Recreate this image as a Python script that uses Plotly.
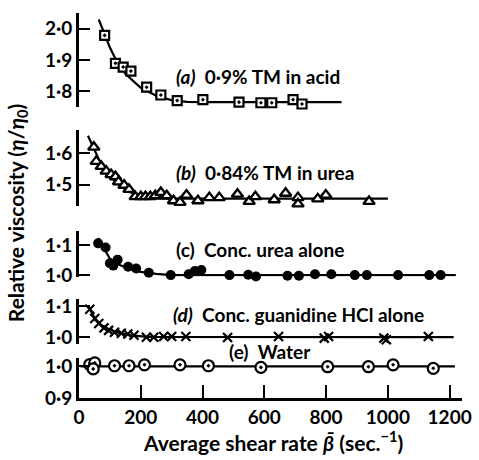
import plotly.graph_objects as go

FONT = "Lato"

# ---------------- data ----------------
# (a) 0.9% TM in acid
a_x = [83, 118, 143, 168, 219, 265, 318, 373, 401, 518, 589, 624, 693, 722]
a_y = [1.979, 1.889, 1.877, 1.864, 1.812, 1.787, 1.769, 1.746, 1.772, 1.764, 1.762, 1.762, 1.772, 1.758]
a_fit_x = [64, 83, 100, 120, 150, 200, 250, 300, 350, 400, 850]
a_fit_y = [2.03, 1.98, 1.94, 1.90, 1.855, 1.81, 1.785, 1.770, 1.765, 1.764, 1.764]

# (b) 0.84% TM in urea
b_x = [48, 56, 72, 88, 104, 118, 128, 146, 162, 182, 200, 215, 231, 247, 265, 284, 306, 327,
       348, 385, 422, 454, 513, 551, 571, 632, 669, 709, 709, 773, 799, 939]
b_y = [1.619, 1.574, 1.558, 1.543, 1.532, 1.525, 1.509, 1.498, 1.485, 1.462, 1.462, 1.462,
       1.462, 1.465, 1.475, 1.465, 1.449, 1.444, 1.467, 1.449, 1.459, 1.459, 1.470, 1.447,
       1.462, 1.452, 1.473, 1.459, 1.439, 1.455, 1.467, 1.447]
b_fit_x = [29, 48, 70, 100, 130, 160, 190, 230, 280, 1000]
b_fit_y = [1.655, 1.615, 1.568, 1.525, 1.500, 1.479, 1.465, 1.457, 1.456, 1.456]

# (c) Conc. urea alone
c_x = [62, 86, 100, 111, 125, 159, 185, 226, 265, 297, 325, 355, 375, 396, 487, 516, 548,
       573, 599, 675, 712, 764, 817, 893, 932, 1033, 1086, 1134, 1171]
c_y = [1.107, 1.093, 1.040, 1.032, 1.052, 1.028, 1.022, 1.008, 0.992, 1.000, 0.990, 1.003,
       1.014, 1.017, 1.000, 0.989, 1.001, 0.995, 0.988, 0.998, 0.998, 1.003, 1.003, 1.000,
       1.000, 1.000, 0.989, 1.000, 1.000]
c_fit_x = [62, 80, 100, 130, 160, 200, 250, 300, 1220]
c_fit_y = [1.125, 1.09, 1.055, 1.035, 1.022, 1.011, 1.004, 1.0, 1.0]

# (d) Conc. guanidine HCl alone
d_x = [35, 51, 64, 81, 96, 115, 137, 158, 178, 218, 242, 274, 300, 346, 481, 646, 794, 808,
       987, 995, 1131]
d_y = [1.090, 1.060, 1.044, 1.030, 1.022, 1.016, 1.013, 1.010, 1.006, 1.000, 1.000, 1.002,
       1.002, 1.002, 0.999, 1.002, 0.997, 1.002, 0.997, 0.992, 1.002]
d_fit_x = [30, 50, 70, 100, 130, 170, 220, 1213]
d_fit_y = [1.10, 1.063, 1.04, 1.024, 1.014, 1.006, 1.001, 1.0]

# (e) Water
e_x = [35, 51, 46, 115, 162, 212, 327, 419, 589, 805, 937, 1017, 1147]
e_y = [1.006, 1.011, 0.992, 1.002, 1.002, 1.005, 1.005, 1.002, 0.997, 0.999, 0.999, 1.005, 0.994]
e_fit_x = [5, 1217]
e_fit_y = [1.0, 1.0]

x_ticks = [0, 200, 400, 600, 800, 1000, 1200]
a_ticks, a_labels = [2.0, 1.9, 1.8], ["2·0", "1·9", "1·8"]
b_ticks, b_labels = [1.6, 1.5], ["1·6", "1·5"]
c_ticks, c_labels = [1.1, 1.0], ["1·1", "1·0"]
d_ticks, d_labels = [1.1, 1.0], ["1·1", "1·0"]
e_ticks, e_labels = [1.0, 0.9], ["1·0", "0·9"]

labels = [
    "<i>(a)</i>  0·9% TM in acid",
    "<i>(b)</i>  0·84% TM in urea",
    "(c)  Conc. urea alone",
    "<i>(d)</i>  Conc. guanidine HCl alone",
    "(e)  Water",
]

# ---------------- figure ----------------
fig = go.Figure()
BLACK = "black"

def add_series(xs, ys, fx, fy, yref, marker):
    fig.add_trace(go.Scatter(x=fx, y=fy, mode="lines", yaxis=yref,
                             line=dict(color=BLACK, width=2.2), hoverinfo="skip"))
    fig.add_trace(go.Scatter(x=xs, y=ys, mode="markers", yaxis=yref, cliponaxis=False,
                             marker=marker))

add_series(a_x, a_y, a_fit_x, a_fit_y, "y",
           dict(symbol="square-dot", size=9, color="white", line=dict(color=BLACK, width=2.2)))
add_series(b_x, b_y, b_fit_x, b_fit_y, "y2",
           dict(symbol="triangle-up", size=10, color="white", line=dict(color=BLACK, width=2.4)))
add_series(c_x, c_y, c_fit_x, c_fit_y, "y3",
           dict(symbol="circle", size=10, color=BLACK, line=dict(color=BLACK, width=0)))
add_series(d_x, d_y, d_fit_x, d_fit_y, "y4",
           dict(symbol="x-thin", size=9, color=BLACK, line=dict(color=BLACK, width=2.2)))
add_series(e_x, e_y, e_fit_x, e_fit_y, "y5",
           dict(symbol="circle-dot", size=11, color="white", line=dict(color=BLACK, width=2.2)))

tickfont = dict(family=FONT, size=19, color=BLACK, weight="bold")

def yax(rng, dom, tv, tt):
    return dict(range=rng, domain=dom, anchor="x", tickvals=tv, ticktext=tt,
                showline=True, linewidth=3, linecolor=BLACK, ticks="inside",
                ticklen=11, tickwidth=2.2, tickcolor=BLACK, showgrid=False,
                zeroline=False, tickfont=tickfont, fixedrange=True)

fig.update_layout(
    width=479, height=460,
    margin=dict(l=79, r=11, t=8, b=62),
    paper_bgcolor="white", plot_bgcolor="white",
    showlegend=False,
    xaxis=dict(range=[0, 1240], domain=[0, 1], anchor="y5", tickvals=x_ticks,
               ticktext=[str(v) for v in x_ticks],
               showline=True, linewidth=2.8, linecolor=BLACK, ticks="inside",
               ticklen=13, tickwidth=2.2, tickcolor=BLACK, showgrid=False, zeroline=False,
               tickfont=tickfont),
    yaxis=yax([1.749, 2.051], [0.7564, 1.0], a_ticks, a_labels),
    yaxis2=yax([1.434, 1.672], [0.5, 0.6949], b_ticks, b_labels),
    yaxis3=yax([0.995, 1.148], [0.3154, 0.4333], c_ticks, c_labels),
    yaxis4=yax([0.979, 1.122], [0.141, 0.2564], d_ticks, d_labels),
    yaxis5=yax([0.9, 1.025], [0.0, 0.1026], e_ticks, e_labels),
)

labfont = dict(family=FONT, size=19, color=BLACK, weight="bold")
label_pos = [(306, 0.836), (306, 0.585), (306, 0.385), (299, 0.218), (478, 0.1205)]
for txt, (lx, ly) in zip(labels, label_pos):
    fig.add_annotation(x=lx, y=ly, xref="x", yref="paper", text=txt, showarrow=False,
                       xanchor="left", yanchor="middle", font=labfont)

titlefont = dict(family=FONT, size=21, color=BLACK, weight="bold")
fig.add_annotation(x=-63 / 389, y=0.48, xref="paper", yref="paper",
                   text="Relative viscosity (<i>η</i>/<i>η</i><sub>0</sub>)",
                   textangle=-90, showarrow=False, font=titlefont,
                   xanchor="center", yanchor="middle")
fig.add_annotation(x=197 / 389, y=-44 / 390, xref="paper", yref="paper",
                   text="Average shear rate <i>β̄</i> (sec.<sup>−1</sup>)",
                   showarrow=False, font=titlefont, xanchor="center", yanchor="middle")

fig.write_html("out.html")
